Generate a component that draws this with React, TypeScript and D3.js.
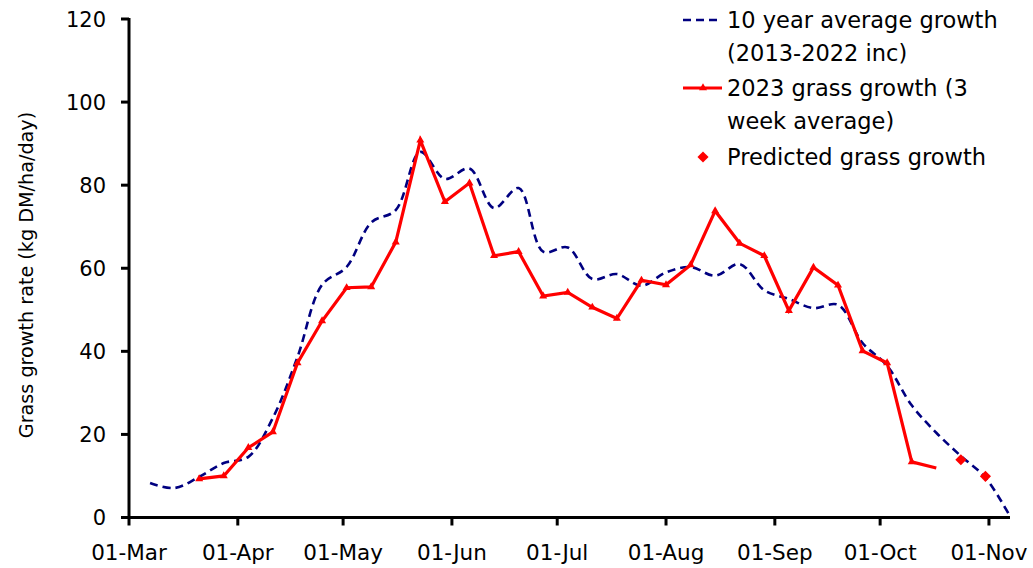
import React from 'react';
import * as d3 from 'd3';

// 10 year average growth (2013-2022 inc), weekly
const avgDates = [
  '2023-03-07', '2023-03-14', '2023-03-21', '2023-03-28',
  '2023-04-04', '2023-04-11', '2023-04-18', '2023-04-25',
  '2023-05-02', '2023-05-09', '2023-05-16', '2023-05-23', '2023-05-30',
  '2023-06-06', '2023-06-13', '2023-06-20', '2023-06-27',
  '2023-07-04', '2023-07-11', '2023-07-18', '2023-07-25',
  '2023-08-01', '2023-08-08', '2023-08-15', '2023-08-22', '2023-08-29',
  '2023-09-05', '2023-09-12', '2023-09-19', '2023-09-26',
  '2023-10-03', '2023-10-10', '2023-10-17', '2023-10-24', '2023-10-31',
  '2023-11-07',
];
const avgValues = [
  8.3, 7.1, 9.8, 13.1,
  14.6, 24, 38.6, 56,
  60.3, 71, 74, 88, 81.5,
  84, 74.5, 79.3, 64,
  65, 57.4, 58.6, 55.8,
  59, 60.3, 58.2, 61, 54.7,
  52.6, 50.4, 51.2, 42,
  36.5, 27, 20.4, 14.8, 9.6,
  0.3,
];

// 2023 grass growth (3 week average)
const growthDates = [
  '2023-03-21', '2023-03-28',
  '2023-04-04', '2023-04-11', '2023-04-18', '2023-04-25',
  '2023-05-02', '2023-05-09', '2023-05-16', '2023-05-23', '2023-05-30',
  '2023-06-06', '2023-06-13', '2023-06-20', '2023-06-27',
  '2023-07-04', '2023-07-11', '2023-07-18', '2023-07-25',
  '2023-08-01', '2023-08-08', '2023-08-15', '2023-08-22', '2023-08-29',
  '2023-09-05', '2023-09-12', '2023-09-19', '2023-09-26',
  '2023-10-03', '2023-10-10', '2023-10-17',
];
const growthValues = [
  9.3, 10,
  16.8, 20.6, 37.2, 47.3,
  55.3, 55.5, 66.3, 90.8, 76,
  80.5, 63, 64, 53.3,
  54.2, 50.6, 47.9, 57.1,
  56, 60.8, 73.8, 66, 63,
  49.8, 60.2, 55.9, 40.1,
  37.2, 13.4, 11.9,
];

// Predicted grass growth
const predictedDates = ['2023-10-24', '2023-10-31'];
const predictedValues = [13.9, 9.9];

const xTickDates = [
  '2023-03-01', '2023-04-01', '2023-05-01', '2023-06-01', '2023-07-01',
  '2023-08-01', '2023-09-01', '2023-10-01', '2023-11-01',
];
const xTickLabels = ['01-Mar', '01-Apr', '01-May', '01-Jun', '01-Jul', '01-Aug', '01-Sep', '01-Oct', '01-Nov'];
const yTicks = [0, 20, 40, 60, 80, 100, 120];

const parse = d3.utcParse('%Y-%m-%d');
const FONT = '"DejaVu Sans", Verdana, sans-serif';

export default function App() {
  const width = 1033;
  const height = 568;
  const x = d3
    .scaleUtc()
    .domain([parse('2023-03-01'), parse('2023-11-07')])
    .range([129, 1010]);
  const y = d3.scaleLinear().domain([0, 120]).range([517.5, 19]);

  const avg = avgDates.map((d, i) => ({ date: parse(d), value: avgValues[i] }));
  const growth = growthDates.map((d, i) => ({ date: parse(d), value: growthValues[i] }));
  const predicted = predictedDates.map((d, i) => ({ date: parse(d), value: predictedValues[i] }));

  const avgLine = d3
    .line()
    .x((d) => x(d.date))
    .y((d) => y(d.value))
    .curve(d3.curveCatmullRom.alpha(0.5));
  const growthLine = d3
    .line()
    .x((d) => x(d.date))
    .y((d) => y(d.value));

  const triangle = d3.symbol(d3.symbolTriangle, 28)();
  const diamond = d3.symbol(d3.symbolSquare, 62)();

  const x0 = x.range()[0];
  const y0 = y(0);

  return (
    <svg width={width} height={height} style={{ position: 'absolute', left: 0, top: 0 }} fontFamily={FONT}>
      <rect width={width} height={height} fill="white" />

      {/* average line */}
      <path
        d={avgLine(avg)}
        fill="none"
        stroke="#000080"
        strokeWidth={2.6}
        strokeDasharray="8 5"
      />

      {/* 2023 growth */}
      <path d={growthLine(growth)} fill="none" stroke="#ff0000" strokeWidth={3.2} strokeLinejoin="miter" />
      {growth.slice(0, -1).map((d, i) => (
        <path key={i} d={triangle} transform={`translate(${x(d.date)},${y(d.value)})`} fill="#ff0000" />
      ))}

      {/* predicted */}
      {predicted.map((d, i) => (
        <path key={i} d={diamond} transform={`translate(${x(d.date)},${y(d.value)}) rotate(45)`} fill="#ff0000" />
      ))}

      {/* y axis */}
      <line x1={x0} x2={x0} y1={y(120) - 1} y2={y0 + 1.5} stroke="black" strokeWidth={3} />
      {yTicks.map((t) => (
        <g key={t}>
          <line x1={x0 - 8} x2={x0} y1={y(t)} y2={y(t)} stroke="black" strokeWidth={3} />
          <text x={106} y={y(t)} dy="0.36em" textAnchor="end" fontSize={21} fill="black">
            {t}
          </text>
        </g>
      ))}

      {/* x axis */}
      <line x1={x0 - 8} x2={x.range()[1]} y1={y0} y2={y0} stroke="black" strokeWidth={3} />
      {xTickDates.map((d, i) => (
        <g key={d}>
          <line x1={x(parse(d))} x2={x(parse(d))} y1={y0} y2={y0 + 8} stroke="black" strokeWidth={3} />
          <text x={x(parse(d))} y={560} textAnchor="middle" fontSize={21.5} fill="black">
            {xTickLabels[i]}
          </text>
        </g>
      ))}

      {/* y axis title */}
      <text
        transform={`translate(33,${275}) rotate(-90)`}
        textAnchor="middle"
        fontSize={19.2}
        fill="black"
      >
        Grass growth rate (kg DM/ha/day)
      </text>

      {/* legend */}
      <g fontSize={22.5} fill="black">
        <line x1={683} x2={718} y1={20} y2={20} stroke="#000080" strokeWidth={2.6} strokeDasharray="8 5" />
        <text x={727} y={28}>10 year average growth</text>
        <text x={727} y={61}>(2013-2022 inc)</text>
        <line x1={683} x2={722} y1={88} y2={88} stroke="#ff0000" strokeWidth={3.2} />
        <path d={triangle} transform="translate(703,88)" fill="#ff0000" />
        <text x={727} y={96}>2023 grass growth (3</text>
        <text x={727} y={129}>week average)</text>
        <path d={diamond} transform="translate(703,157) rotate(45)" fill="#ff0000" />
        <text x={727} y={165}>Predicted grass growth</text>
      </g>
    </svg>
  );
}
